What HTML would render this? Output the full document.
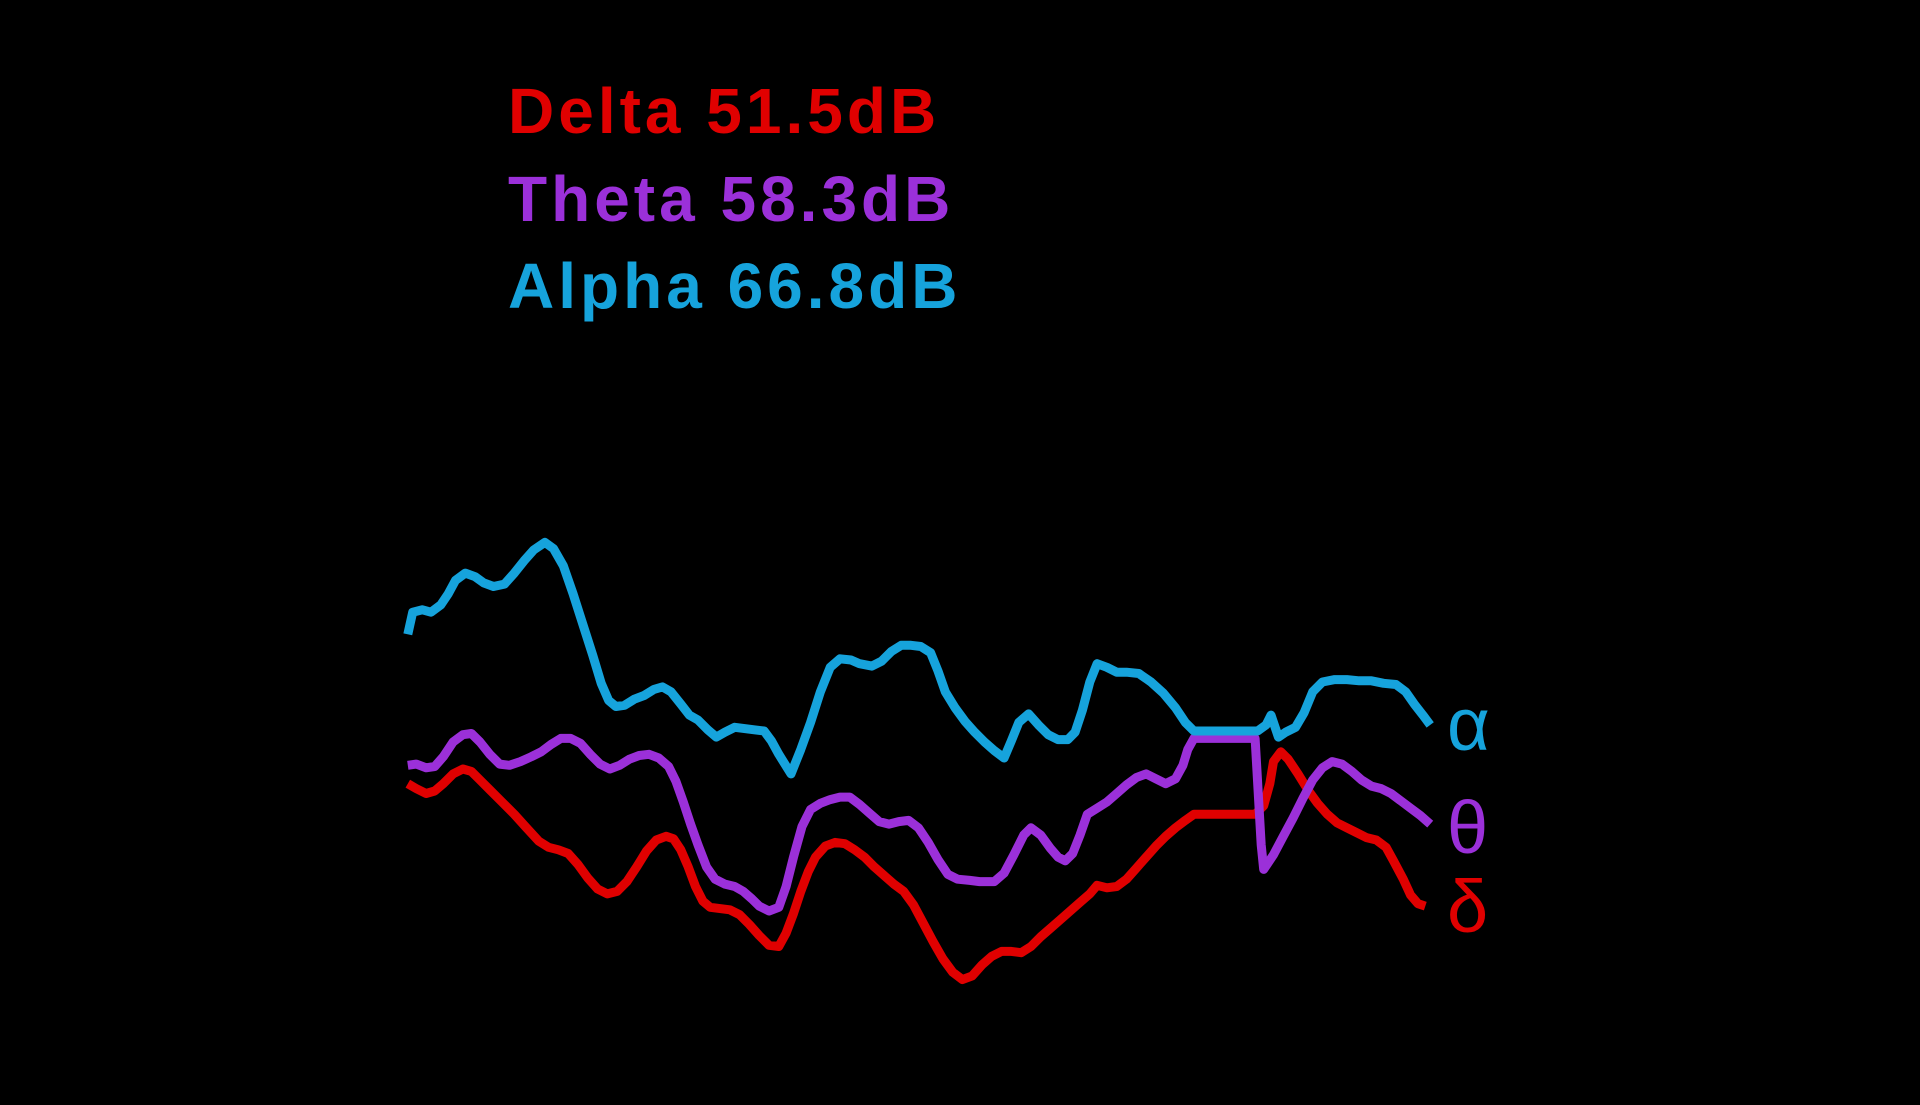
<!DOCTYPE html>
<html><head><meta charset="utf-8"><style>
html,body{margin:0;padding:0;background:#000;}
svg{display:block}
</style></head><body>
<svg id="chart" width="1920" height="1105" viewBox="0 0 1920 1105" xmlns="http://www.w3.org/2000/svg">
<rect x="0" y="0" width="1920" height="1105" fill="#000"/>
<g font-family="Liberation Sans, sans-serif" font-weight="bold" font-size="64" letter-spacing="4">
<text x="508" y="133" fill="#e00000">Delta 51.5dB</text>
<text x="508" y="221" fill="#9b30d9">Theta 58.3dB</text>
<text x="508" y="308" fill="#16a3dc">Alpha 66.8dB</text>
</g>
<g id="series"></g>
<g font-family="Liberation Sans, sans-serif" font-size="74">
<text x="1447" y="750" fill="#16a3dc">α</text>
<text x="1447" y="853" fill="#9b30d9">θ</text>
<text x="1447" y="932" fill="#e00000">δ</text>
</g>
</svg>
<script>
// time positions (arbitrary units) and signal depth values (larger = lower on screen)
const alphaT=[333,337,345,352,360,366,372,380,388,395,403,412,420,428,436,445,452,460,468,476,484,491,497,503,510,518,526,534,541,548,556,563,570,578,585,592,600,608,616,624,630,636,646,654,662,670,678,686,695,702,712,720,728,736,744,752,760,766,772,780,788,796,804,812,820,826,832,840,848,856,864,872,878,884,890,896,904,912,920,930,940,950,960,968,975,990,1005,1027,1034,1038,1044,1050,1058,1065,1072,1080,1090,1100,1110,1120,1130,1140,1148,1155,1162,1168];
const alphaV=[518,500,498,500,494,485,474,468,471,476,479,477,468,458,449,443,448,462,485,510,535,558,572,577,576,571,568,563,561,565,575,584,588,596,602,598,594,595,596,597,605,616,632,612,590,565,545,538,539,542,544,540,532,527,527,528,533,548,565,578,589,598,606,613,619,605,590,583,592,600,604,604,598,580,557,542,545,549,549,550,557,566,578,590,597,597,597,597,592,584,602,598,594,582,565,557,555,555,556,556,558,559,565,575,584,592];
const thetaT=[333,340,348,355,362,370,378,385,392,400,408,416,425,434,442,450,458,466,474,482,490,498,506,514,522,530,538,546,552,558,564,570,577,584,592,600,607,614,620,628,636,642,648,655,662,670,678,686,694,702,710,718,726,734,742,750,758,766,774,782,792,800,812,820,828,836,842,850,858,864,870,876,882,888,896,904,912,920,928,936,944,952,960,966,970,975,990,1005,1025,1030,1032,1040,1048,1056,1064,1072,1080,1088,1096,1104,1112,1120,1128,1136,1144,1152,1160,1168];
const thetaV=[625,624,627,626,618,606,600,599,606,616,624,625,622,618,614,608,603,603,607,616,624,628,625,620,617,616,619,626,638,655,673,690,708,718,722,724,728,734,740,744,741,724,700,675,661,656,653,651,651,657,664,671,673,671,670,676,688,702,714,718,719,720,720,713,698,682,676,682,693,700,703,697,682,665,660,655,648,641,635,632,636,640,636,625,612,603,603,603,603,690,710,698,683,668,652,637,627,622,624,630,637,642,644,648,654,660,666,673];
const deltaT=[333,340,348,355,362,370,378,385,392,400,410,420,430,440,448,456,464,472,480,488,496,504,512,520,528,536,544,550,556,562,568,574,580,588,596,604,612,620,628,636,642,648,654,660,666,674,682,690,698,706,714,722,730,738,746,754,762,770,778,786,794,802,810,818,826,834,842,850,858,866,874,882,890,896,904,912,920,928,936,944,952,960,968,975,990,1005,1025,1032,1037,1040,1046,1052,1060,1068,1076,1084,1092,1100,1108,1116,1124,1132,1138,1146,1152,1158,1164];
const deltaV=[640,644,648,646,640,632,628,630,637,645,655,665,676,687,692,694,697,706,717,726,730,728,720,708,695,686,683,685,694,708,724,736,741,742,743,747,755,764,772,773,762,746,728,712,700,691,688,689,694,700,708,715,722,728,739,754,769,783,794,800,797,788,781,777,777,778,773,765,758,751,744,737,730,723,725,724,718,709,700,691,683,676,670,665,665,665,665,658,640,622,614,620,632,645,656,665,672,676,680,684,686,692,703,718,731,738,740];

const K=1920/1568;
function xScale(t){return t*K;}
function yScale(v){return v*K;}
const g=document.getElementById('series');
function draw(T,V,color,name){
  let d='';
  for(let i=0;i<T.length;i++){d+=(i?'L':'M')+xScale(T[i]).toFixed(1)+' '+yScale(V[i]).toFixed(1);}
  const p=document.createElementNS('http://www.w3.org/2000/svg','path');
  p.setAttribute('d',d);
  p.setAttribute('fill','none');
  p.setAttribute('stroke',color);
  p.setAttribute('stroke-width','9');
  p.setAttribute('stroke-linejoin','round');
  p.setAttribute('stroke-linecap','butt');
  
  
  g.appendChild(p);
}
draw(deltaT,deltaV,'#e00000','delta-line');
draw(thetaT,thetaV,'#9b30d9','theta-line');
draw(alphaT,alphaV,'#16a3dc','alpha-line');
</script>
</body></html>
